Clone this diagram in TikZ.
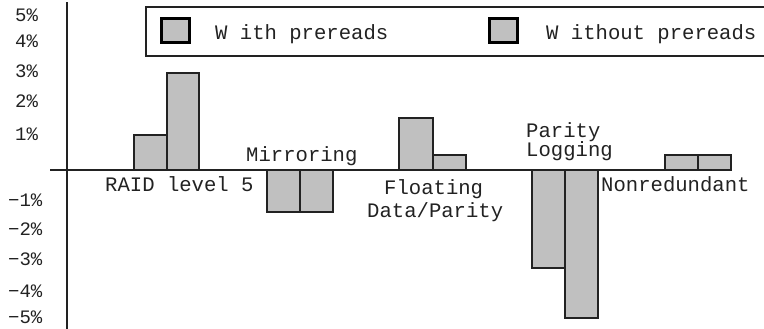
\documentclass[tikz,border=0pt]{standalone}
\usepackage{fontspec}
\setmonofont{Liberation Mono}
\newcommand\labfont{\ttfamily\fontsize{20.6bp}{24bp}\selectfont}
\newcommand\tickfont{\ttfamily\fontsize{19bp}{22bp}\selectfont}
\definecolor{barfill}{HTML}{C0C0C0}
\definecolor{ink}{HTML}{222222}
\begin{document}
\begin{tikzpicture}[x=1bp,y=-1bp,
  bar/.style={draw=ink, line width=1.1bp, fill=barfill},
  lab/.style={font=\labfont, text=ink, inner sep=0pt, anchor=base west},
  ticklab/.style={font=\tickfont, text=ink, inner sep=0pt, anchor=base west},
  axisline/.style={draw=ink, line width=1.4bp},
  legsq/.style={draw=black, line width=3bp, fill=barfill}]
\useasboundingbox (0,0) rectangle (764,328);
\clip (0,0) rectangle (764,328);
% legend
\draw[draw=ink, line width=1.4bp, fill=white] (146,7) rectangle (790,56);
\draw[legsq] (161,18) rectangle (189,42);
\node[lab] (lwith) at (215,39) {W ith prereads};
\draw[legsq] (489,18) rectangle (517,42);
\node[lab] (lwithout) at (546,39) {W ithout prereads};
% bars
\draw[bar] (134,170) rectangle (167,135);
\draw[bar] (167,170) rectangle (199,73);
\draw[bar] (267,170) rectangle (300,212);
\draw[bar] (300,170) rectangle (333,212);
\draw[bar] (399,170) rectangle (433,118);
\draw[bar] (433,170) rectangle (466,155);
\draw[bar] (532,170) rectangle (565,268);
\draw[bar] (565,170) rectangle (598,318);
\draw[bar] (665,170) rectangle (698,155);
\draw[bar] (698,170) rectangle (731,155);
% axes
\draw[axisline] (50,170) -- (731,170);
\draw[axisline] (67,2) -- (67,330);
% tick labels
\node[ticklab] (t5) at (15,21) {5\%};
\node[ticklab] (t4) at (15,47) {4\%};
\node[ticklab] (t3) at (15,77) {3\%};
\node[ticklab] (t2) at (15,107) {2\%};
\node[ticklab] (t1) at (15,140) {1\%};
\node[ticklab] (m1) at (8,206) {−1\%};
\node[ticklab] (m2) at (8,235) {−2\%};
\node[ticklab] (m3) at (8,265) {−3\%};
\node[ticklab] (m4) at (8,297) {−4\%};
\node[ticklab] (m5) at (8,323) {−5\%};
% category labels
\node[lab] (raid) at (105,191) {RAID level 5};
\node[lab] (mirr) at (246,161) {Mirroring};
\node[lab] (float1) at (384,194) {Floating};
\node[lab] (float2) at (367,217) {Data/Parity};
\node[lab] (plog1) at (526,137) {Parity};
\node[lab] (plog2) at (526,156) {Logging};
\node[lab] (nonred) at (601,191) {Nonredundant};
\end{tikzpicture}
\end{document}
